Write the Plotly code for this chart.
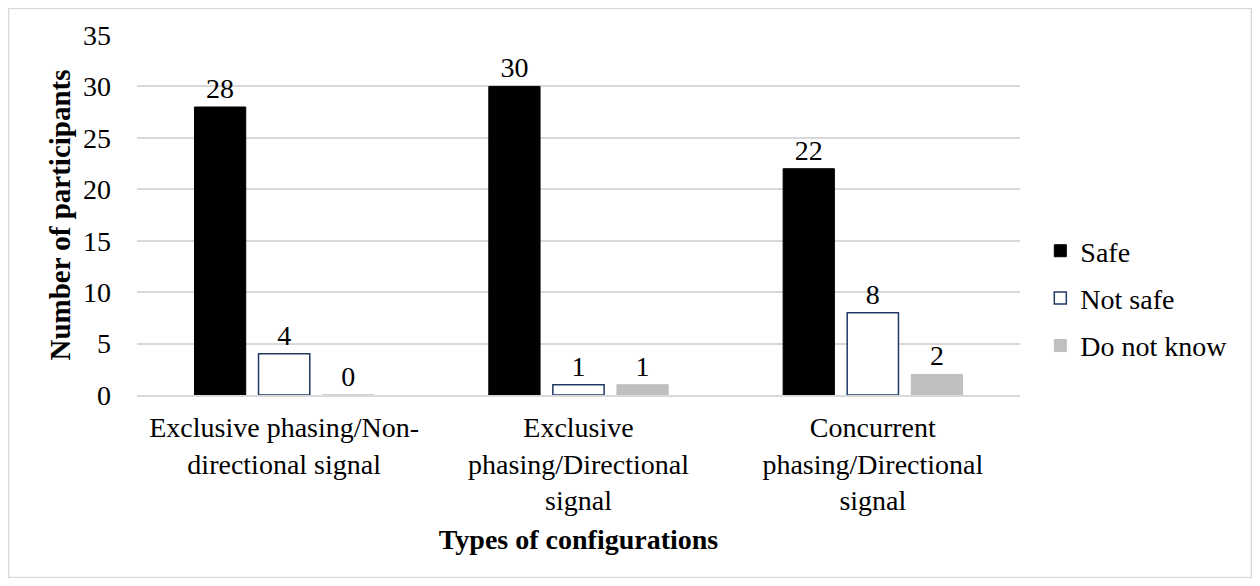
import plotly.graph_objects as go

categories = ["Exclusive phasing/Non-<br>directional signal",
              "Exclusive<br>phasing/Directional<br>signal",
              "Concurrent<br>phasing/Directional<br>signal"]
safe = [28, 30, 22]
not_safe = [4, 1, 8]
do_not_know = [0, 1, 2]
y_ticks = [0, 5, 10, 15, 20, 25, 30, 35]

FONT = "Liberation Serif, Times New Roman, serif"
fs = 28

fig = go.Figure()
fig.add_trace(go.Bar(name="Safe", x=categories, y=safe, text=safe,
                     marker=dict(color="black", line=dict(color="black", width=1)),
                     legendgroup="a"))
fig.add_trace(go.Bar(name="Not safe", x=categories, y=not_safe, text=not_safe,
                     marker=dict(color="white", line=dict(color="#1f3864", width=1.5)),
                     legendgroup="b"))
fig.add_trace(go.Bar(name="Do not know", x=categories, y=do_not_know, text=do_not_know,
                     marker=dict(color="#bfbfbf", line=dict(color="#bfbfbf", width=1)),
                     legendgroup="c"))
fig.update_traces(textposition="outside", cliponaxis=False,
                  textfont=dict(family=FONT, size=fs, color="black"))

fig.update_layout(
    width=1244, height=570,
    margin=dict(l=129, r=232, t=27, b=183, autoexpand=False),
    paper_bgcolor="white", plot_bgcolor="white",
    font=dict(family=FONT, size=fs, color="black"),
    barmode="group", bargap=0.347, bargroupgap=0.2,
    showlegend=True,
    legend=dict(x=1.023, y=0.268, xanchor="left", yanchor="middle",
                font=dict(family=FONT, size=fs, color="black"),
                tracegroupgap=8, itemwidth=30),
    xaxis=dict(showline=True, linecolor="#d9d9d9", linewidth=1.5,
               tickfont=dict(family=FONT, size=fs), ticks="",
               ticklabelstandoff=7,
               title=dict(text="<b>Types of configurations</b>",
                          font=dict(family=FONT, size=fs), standoff=14)),
    yaxis=dict(range=[0, 35], tickvals=y_ticks, showgrid=True,
               gridcolor="#d9d9d9", gridwidth=1.5, zeroline=False,
               tickfont=dict(family=FONT, size=fs), ticks="",
               ticklabelstandoff=25,
               title=dict(text="<b>Number of participants</b>",
                          font=dict(family=FONT, size=29), standoff=3)),
    shapes=[dict(type="rect", xref="paper", yref="paper",
                 x0=-0.1455, x1=1.262, y0=-0.507, y1=1.0736,
                 line=dict(color="#d9d9d9", width=1.5), layer="below")],
)

fig.write_html("out.html")
